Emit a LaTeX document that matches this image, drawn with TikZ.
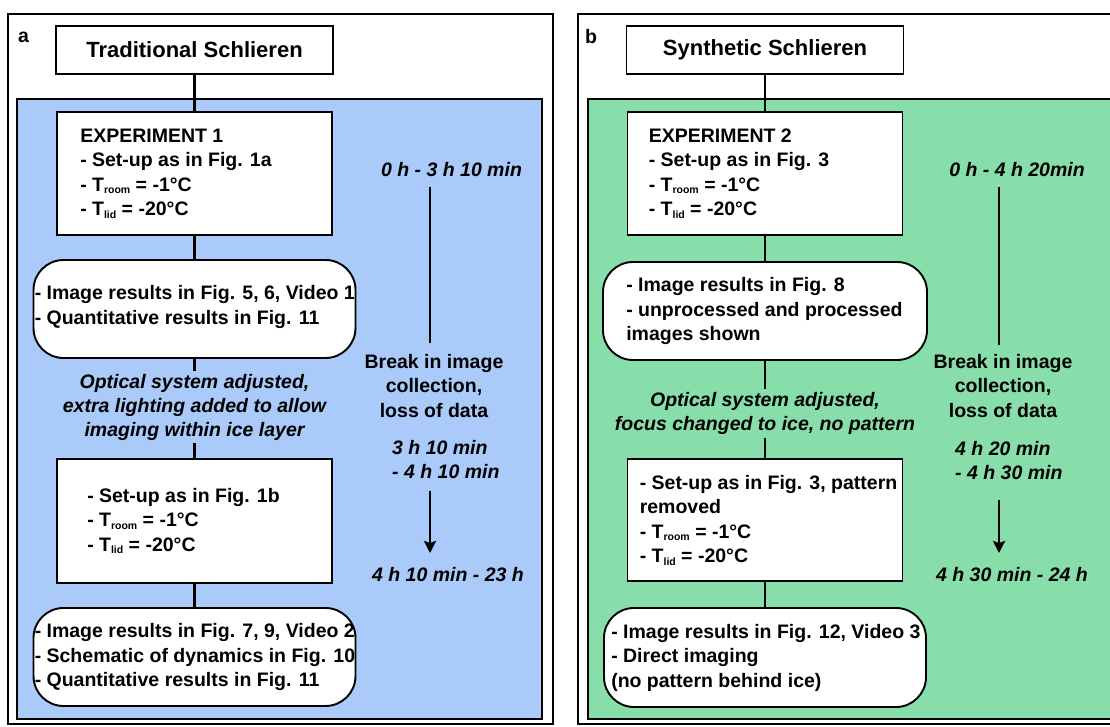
\documentclass[tikz,border=0pt]{standalone}
\usepackage{fontspec}
\setmainfont{Liberation Sans}
\usetikzlibrary{arrows.meta,positioning}

\definecolor{paneblue}{RGB}{170,202,250}
\definecolor{panegreen}{RGB}{136,222,170}
\newcommand{\Tsub}[1]{T\raisebox{-2.5pt}{\fontsize{10.5}{11}\selectfont #1}}

\tikzset{
  box/.style={draw, line width=1.9pt, fill=white, inner sep=0pt},
  rbox/.style={box, rounded corners=30pt},
  titlebox/.style={box, minimum width=277pt, minimum height=48pt, font=\bfseries\fontsize{22}{26}\selectfont},
  txt/.style={inner sep=0pt, align=left, anchor=west, font=\bfseries\fontsize{19.5}{24.5}\selectfont},
  ital/.style={inner sep=3pt, align=center, font=\bfseries\itshape\fontsize{19.5}{24}\selectfont},
  timetxt/.style={inner sep=0pt, align=center, font=\bfseries\fontsize{19.5}{24.5}\selectfont},
  conn/.style={line width=2.4pt},
  panel/.style={line width=2.6pt},
}

\begin{document}
\begin{tikzpicture}[x=1pt,y=-1pt]
\useasboundingbox (0,0) rectangle (1110,727);
\clip (0,0) rectangle (1110,727);
\fill[white] (0,0) rectangle (1110,727);

% panel a
\draw[panel] (8,14) rectangle (553,724);
\draw[panel,fill=paneblue] (17,99) rectangle (542,719);
\node[txt] (la) at (18,37) {a};

\node[titlebox] (Ta) at (194.5,50) {Traditional Schlieren};
\node[box, minimum width=275pt, minimum height=123pt] (E1) at (194.5,173.5) {};
\node[rbox, minimum width=322pt, minimum height=98pt] (R1) at (194.5,309) {};
\node[ital] (O1) at (194.5,407) {Optical system adjusted,\\extra lighting added to allow\\imaging within ice layer};
\node[box, minimum width=275pt, minimum height=124pt] (S1) at (194.5,521) {};
\node[rbox, minimum width=322pt, minimum height=98pt] (R2) at (194.5,657) {};

\node[txt] (E1t) at ([xshift=24pt]E1.west) {EXPERIMENT 1\\- Set-up as in Fig. 1a\\- \Tsub{room} = -1°C\\- \Tsub{lid} = -20°C};
\node[txt] (R1t) at ([xshift=2pt,yshift=2pt]R1.west) {- Image results in Fig. 5, 6, Video 1\\- Quantitative results in Fig. 11};
\node[txt] (S1t) at ([xshift=31pt]S1.west) {- Set-up as in Fig. 1b\\- \Tsub{room} = -1°C\\- \Tsub{lid} = -20°C};
\node[txt] (R2t) at ([xshift=2pt]R2.west) {- Image results in Fig. 7, 9, Video 2\\- Schematic of dynamics in Fig. 10\\- Quantitative results in Fig. 11};

\draw[conn] (Ta)--(E1);
\draw[conn] (E1)--(R1);
\draw[conn] (R1)--(O1);
\draw[conn] (O1)--(S1);
\draw[conn] (S1)--(R2);

\node[ital] (Ha) at (451.5,170) {0 h - 3 h 10 min};
\coordinate (a1) at (430,187);
\coordinate (a2) at (430,343);
\draw[conn] (a1)--(a2);
\node[timetxt] (Ba) at (434,386) {Break in image\\collection,\\loss of data};
\node[ital, align=left, anchor=west, inner sep=0pt] (Ga) at (392,460) {3 h 10 min\\- 4 h 10 min};
\coordinate (a3) at (430,491);
\coordinate (a4) at (430,553);
\draw[conn,-{Stealth[length=12pt,width=12pt,inset=2pt]}] (a3)--(a4);
\node[ital] (Fa) at (448,575) {4 h 10 min - 23 h};

% panel b
\draw[panel] (578,14) rectangle (1140,724);
\draw[panel,fill=panegreen] (588,99) rectangle (1130,719);
\node[txt] (lb) at (585,37) {b};

\node[titlebox] (Tb) at (765,50) {Synthetic Schlieren};
\node[box, minimum width=275pt, minimum height=123pt] (E2) at (765,173.5) {};
\node[rbox, minimum width=324pt, minimum height=98pt] (R3) at (765,311) {};
\node[ital] (O2) at (765,413.5) {Optical system adjusted,\\focus changed to ice, no pattern};
\node[box, minimum width=275pt, minimum height=122pt] (S2) at (765,520) {};
\node[rbox, minimum width=322pt, minimum height=99pt] (R4) at (765,657.5) {};

\node[txt] (E2t) at ([xshift=22pt]E2.west) {EXPERIMENT 2\\- Set-up as in Fig. 3\\- \Tsub{room} = -1°C\\- \Tsub{lid} = -20°C};
\node[txt] (R3t) at ([xshift=24pt]R3.west) {- Image results in Fig. 8\\- unprocessed and processed\\images shown};
\node[txt] (S2t) at ([xshift=13pt]S2.west) {- Set-up as in Fig. 3, pattern\\removed\\- \Tsub{room} = -1°C\\- \Tsub{lid} = -20°C};
\node[txt] (R4t) at ([xshift=8pt]R4.west) {- Image results in Fig. 12, Video 3\\- Direct imaging\\(no pattern behind ice)};

\draw[conn] (Tb)--(E2);
\draw[conn] (E2)--(R3);
\draw[conn] (R3)--(O2);
\draw[conn] (O2)--(S2);
\draw[conn] (S2)--(R4);

\node[ital] (Hb) at (1017,170) {0 h - 4 h 20min};
\coordinate (b1) at (999,187);
\coordinate (b2) at (999,345);
\draw[conn] (b1)--(b2);
\node[timetxt] (Bb) at (1003,386) {Break in image\\collection,\\loss of data};
\node[ital, align=left, anchor=west, inner sep=0pt] (Gb) at (955,460.5) {4 h 20 min\\- 4 h 30 min};
\coordinate (b3) at (999,500);
\coordinate (b4) at (999,553);
\draw[conn,-{Stealth[length=12pt,width=12pt,inset=2pt]}] (b3)--(b4);
\node[ital] (Fb) at (1012,575) {4 h 30 min - 24 h};
\end{tikzpicture}
\end{document}
